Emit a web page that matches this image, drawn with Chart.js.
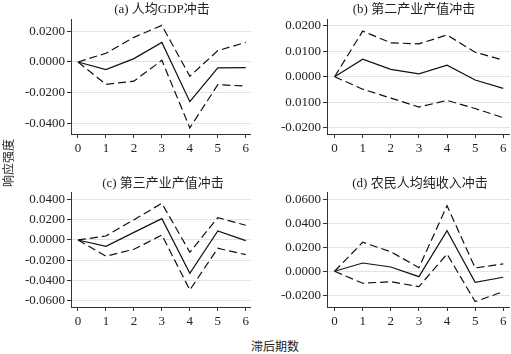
<!DOCTYPE html>
<html lang="zh">
<head>
  <meta charset="UTF-8">
  <title>脉冲响应</title>
  <script src="https://cdn.jsdelivr.net/npm/chart.js"></script>
  <style>
    body { margin: 0; background: #fff; }
    #wrap { position: relative; width: 511px; height: 354px; overflow: hidden; font-family: "Liberation Serif", "Noto Sans CJK SC", serif; color: #222; }
    .panel { position: absolute; }
    .ptitle { position: absolute; width: 200px; text-align: center; font-size: 13px; line-height: 14px; white-space: nowrap; }
    .ytitle { position: absolute; left: -17px; top: 154px; width: 50px; text-align: center; font-size: 12px; transform: rotate(-90deg); }
    .xtitle { position: absolute; left: 240px; top: 337px; width: 70px; text-align: center; font-size: 12px; }
  </style>
</head>
<body>
  <div id="wrap">
    <div class="panel" style="left:0px; top:0px; width:252px; height:164px;"><canvas id="chartA"></canvas></div>
    <div class="panel" style="left:256px; top:0px; width:254px; height:164px;"><canvas id="chartB"></canvas></div>
    <div class="panel" style="left:0px; top:173px; width:252px; height:164px;"><canvas id="chartC"></canvas></div>
    <div class="panel" style="left:256px; top:173px; width:254px; height:164px;"><canvas id="chartD"></canvas></div>
    <div class="ptitle" style="left:62px; top:2px;">(a) 人均GDP冲击</div>
    <div class="ptitle" style="left:314px; top:2px;">(b) 第二产业产值冲击</div>
    <div class="ptitle" style="left:63px; top:176px;">(c) 第三产业产值冲击</div>
    <div class="ptitle" style="left:320px; top:176px;">(d) 农民人均纯收入冲击</div>
    <div class="ytitle">响应强度</div>
    <div class="xtitle">滞后期数</div>
  </div>

  <script>
    var lags = [0, 1, 2, 3, 4, 5, 6];

    // (a) 人均GDP冲击
    var aMid = [0, -0.0050, 0.0022, 0.0128, -0.0259, -0.0039, -0.0037];
    var aUp  = [0, 0.0057, 0.0161, 0.0239, -0.0093, 0.0074, 0.0128];
    var aLow = [0, -0.0146, -0.0125, 0.0011, -0.0430, -0.0148, -0.0157];
    var aTicks = [0.02, 0, -0.02, -0.04];
    var aTickLabels = ["0.0200", "0.0000", "-0.0200", "-0.0400"];

    // (b) 第二产业产值冲击
    var bMid = [0, 0.0069, 0.0029, 0.0011, 0.0045, -0.0013, -0.0046];
    var bUp  = [0, 0.0179, 0.0133, 0.0129, 0.0164, 0.0096, 0.0065];
    var bLow = [0, -0.0049, -0.0084, -0.0119, -0.0093, -0.0125, -0.0161];
    var bTicks = [0.02, 0.01, 0, -0.01, -0.02];
    var bTickLabels = ["0.0200", "0.0100", "0.0000", "0.0100", "-0.0200"];

    // (c) 第三产业产值冲击
    var cMid = [0, -0.0062, 0.0075, 0.0210, -0.0328, 0.0089, -0.0007];
    var cUp  = [0, 0.0039, 0.0200, 0.0361, -0.0121, 0.0220, 0.0145];
    var cLow = [0, -0.0160, -0.0092, 0.0049, -0.0493, -0.0082, -0.0145];
    var cTicks = [0.04, 0.02, 0, -0.02, -0.04, -0.06];
    var cTickLabels = ["0.0400", "0.0200", "0.0000", "-0.0200", "-0.0400", "-0.0600"];

    // (d) 农民人均纯收入冲击
    var dMid = [0, 0.0069, 0.0036, -0.0045, 0.0338, -0.0092, -0.0050];
    var dUp  = [0, 0.0242, 0.0163, 0.0030, 0.0547, 0.0028, 0.0061];
    var dLow = [0, -0.0100, -0.0087, -0.0128, 0.0144, -0.0253, -0.0170];
    var dTicks = [0.06, 0.04, 0.02, 0, -0.02];
    var dTickLabels = ["0.0600", "0.0400", "0.0200", "0.0000", "-0.0200"];

    Chart.defaults.font.family = '"Liberation Serif", "Noto Sans CJK SC", serif';
    Chart.defaults.color = "#222";

    function toPoints(arr) {
      return lags.map(function (x, i) { return { x: x, y: arr[i] }; });
    }

    function lineSet(arr, dashed) {
      return {
        data: toPoints(arr),
        borderColor: "#111",
        borderWidth: 1.2,
        borderDash: dashed ? [8, 4] : [],
        pointRadius: 0,
        tension: 0,
        fill: false
      };
    }

    function drawPanel(id, mid, up, low, yMin, yMax, yTicks, yLabels, xMin, xMax) {
      var ctx = document.getElementById(id).getContext("2d");
      return new Chart(ctx, {
        type: "line",
        data: {
          datasets: [lineSet(up, true), lineSet(mid, false), lineSet(low, true)]
        },
        options: {
          responsive: true,
          maintainAspectRatio: false,
          animation: false,
          layout: { padding: { top: 19.4, left: 0, right: 0, bottom: 0 } },
          plugins: {
            legend: { display: false },
            tooltip: { enabled: false },
            title: { display: false }
          },
          scales: {
            x: {
              type: "linear",
              min: xMin,
              max: xMax,
              afterBuildTicks: function (scale) {
                scale.ticks = lags.map(function (v) { return { value: v }; });
              },
              afterFit: function (scale) { scale.height = 30; },
              grid: { drawOnChartArea: false, tickColor: "#333", tickLength: 4 },
              border: { color: "#333", width: 1 },
              ticks: { font: { size: 13 }, color: "#222", padding: 3, maxRotation: 0, autoSkip: false }
            },
            y: {
              min: yMin,
              max: yMax,
              afterBuildTicks: function (scale) {
                scale.ticks = yTicks.map(function (v) { return { value: v }; });
              },
              afterFit: function (scale) { scale.width = 71; },
              grid: { color: "#e3e3e3", tickColor: "#333", tickLength: 4 },
              border: { color: "#333", width: 1 },
              ticks: {
                font: { size: 13 },
                color: "#222",
                padding: 2,
                autoSkip: false,
                callback: function (value, index) { return yLabels[index]; }
              }
            }
          }
        }
      });
    }

    drawPanel("chartA", aMid, aUp, aLow, -0.047, 0.0278, aTicks, aTickLabels, -0.25, 6.18);
    drawPanel("chartB", bMid, bUp, bLow, -0.0225, 0.0225, bTicks, bTickLabels, -0.27, 6.24);
    drawPanel("chartC", cMid, cUp, cLow, -0.0661, 0.0469, cTicks, cTickLabels, -0.25, 6.18);
    drawPanel("chartD", dMid, dUp, dLow, -0.0298, 0.0658, dTicks, dTickLabels, -0.27, 6.24);
  </script>
</body>
</html>
